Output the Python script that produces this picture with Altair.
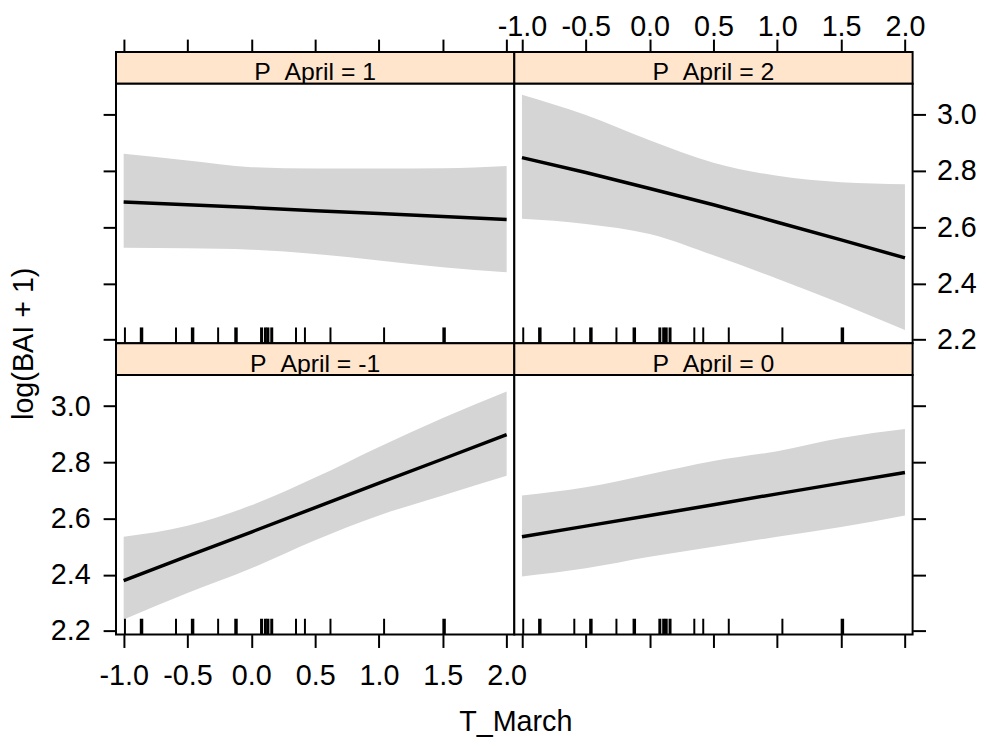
import altair as alt
import pandas as pd

# ---------------- data ----------------
x_grid = [-1.0, -0.5, 0.0, 0.5, 1.0, 1.5, 2.0]

strip_labels = ["P_April = 1", "P_April = 2", "P_April = -1", "P_April = 0"]

# P_April = 1 (top-left)
fit_p1 = [2.690, 2.680, 2.670, 2.659, 2.649, 2.638, 2.628]
lo_p1 = [2.527, 2.525, 2.520, 2.505, 2.482, 2.458, 2.440]
hi_p1 = [2.862, 2.838, 2.814, 2.809, 2.809, 2.810, 2.818]

# P_April = 2 (top-right)
fit_p2 = [2.848, 2.795, 2.738, 2.680, 2.618, 2.555, 2.491]
lo_p2 = [2.630, 2.612, 2.576, 2.500, 2.417, 2.329, 2.234]
hi_p2 = [3.072, 3.000, 2.910, 2.830, 2.783, 2.760, 2.753]

# P_April = -1 (bottom-left)
fit_m1 = [2.379, 2.466, 2.552, 2.639, 2.726, 2.812, 2.899]
lo_m1 = [2.241, 2.335, 2.423, 2.523, 2.611, 2.682, 2.752]
hi_m1 = [2.535, 2.574, 2.647, 2.746, 2.855, 2.958, 3.052]

# P_April = 0 (bottom-right)
fit_p0 = [2.535, 2.573, 2.611, 2.649, 2.688, 2.726, 2.764]
lo_p0 = [2.394, 2.423, 2.464, 2.500, 2.535, 2.570, 2.611]
hi_p0 = [2.682, 2.711, 2.758, 2.805, 2.840, 2.887, 2.919]

# rug of observed T_March values
rug_x = [-0.99, -0.86, -0.59, -0.46, -0.26, -0.12, 0.08, 0.11, 0.13, 0.16,
         0.35, 0.42, 0.62, 1.04, 1.51]
rug_w = [2, 3.5, 2, 3.5, 2, 3.5, 3, 3, 3, 3, 2, 2, 2, 2, 3.5]

x_ticks = [-1.0, -0.5, 0.0, 0.5, 1.0, 1.5, 2.0]
y_ticks = [2.2, 2.4, 2.6, 2.8, 3.0]

# ---------------- styling ----------------
X_DOMAIN = [-1.06, 2.06]
Y_DOMAIN = [2.187, 3.111]
W, H_PLOT, H_STRIP = 402, 262, 32
FONT = "Liberation Sans"
LAB = 29
TICK = 13
BAND = "#d5d5d5"
STRIP = "#ffe5cc"
LABEL_EXPR = "(datum.value < 0 ? '-' : '') + format(abs(datum.value), '.1f')"

xs = alt.Scale(domain=X_DOMAIN, nice=False, zero=False)
ys = alt.Scale(domain=Y_DOMAIN, nice=False, zero=False)

rug_df = pd.DataFrame({"x": rug_x, "w": rug_w})


def axis(orient, values, labels, pad=10, **kw):
    return alt.Axis(orient=orient, values=values, labels=labels, tickSize=TICK,
                    tickWidth=2, tickColor="black", domain=False, grid=False,
                    labelExpr=LABEL_EXPR, labelFont=FONT, labelFontSize=LAB,
                    labelColor="black", labelPadding=pad, **kw)


def plot_panel(fit, lo, hi, xaxis, yaxis):
    df = pd.DataFrame({"x": x_grid, "fit": fit, "lo": lo, "hi": hi})
    X = alt.X("x:Q", scale=xs, axis=xaxis)
    band = alt.Chart(df).mark_area(color=BAND, opacity=1, interpolate="monotone").encode(
        x=X, y=alt.Y("lo:Q", scale=ys, axis=yaxis), y2="hi:Q")
    line = alt.Chart(df).mark_line(color="black", strokeWidth=3.5).encode(
        x=X, y=alt.Y("fit:Q", scale=ys, axis=yaxis))
    rug = alt.Chart(rug_df).mark_rule(color="black").encode(
        x=X, y=alt.value(H_PLOT - 16), y2=alt.value(H_PLOT),
        strokeWidth=alt.StrokeWidth("w:Q", scale=None))
    return alt.layer(band, line, rug).properties(
        width=W, height=H_PLOT,
        view=alt.ViewBackground(fill="white", stroke="black", strokeWidth=2))


def strip_panel(label, xaxis):
    df = pd.DataFrame({"x": [(X_DOMAIN[0] + X_DOMAIN[1]) / 2], "label": [label]})
    return alt.Chart(df).mark_text(font=FONT, fontSize=25, color="black",
                                   baseline="alphabetic").encode(
        x=alt.X("x:Q", scale=xs, axis=xaxis), y=alt.value(28.5), text="label:N"
    ).properties(width=W, height=H_STRIP,
                 view=alt.ViewBackground(fill=STRIP, stroke="black", strokeWidth=2))


s_tl = strip_panel(strip_labels[0], axis("top", x_ticks, False, title=None))
s_tr = strip_panel(strip_labels[1], axis("top", x_ticks, True, pad=-2, title=None))
p_tl = plot_panel(fit_p1, lo_p1, hi_p1, None, axis("left", y_ticks, False, title=None))
p_tr = plot_panel(fit_p2, lo_p2, hi_p2, None, axis("right", y_ticks, True, pad=11, title=None))
s_bl = strip_panel(strip_labels[2], None)
s_br = strip_panel(strip_labels[3], None)
p_bl = plot_panel(
    fit_m1, lo_m1, hi_m1,
    axis("bottom", x_ticks, True, pad=14, title="T_March", titleFont=FONT,
         titleFontSize=29, titleFontWeight="normal", titleColor="black",
         titleX=W + 1, titleY=97, titleAlign="center", titleBaseline="alphabetic"),
    axis("left", y_ticks, True, pad=13, title="log(BAI + 1)", titleFont=FONT,
         titleFontSize=29, titleFontWeight="normal", titleColor="black",
         titleX=-84, titleY=-H_STRIP,
         titleAngle=270, titleAlign="center", titleBaseline="alphabetic"))
p_br = plot_panel(fit_p0, lo_p0, hi_p0,
                  axis("bottom", x_ticks, False, title=None),
                  axis("right", y_ticks, False, title=None))

chart = alt.concat(s_tl, s_tr, p_tl, p_tr, s_bl, s_br, p_bl, p_br,
                   columns=2, spacing=0, bounds="flush", align="each",
                   padding=0)

chart.save("out.html", embed_options={"renderer": "svg", "actions": False})
